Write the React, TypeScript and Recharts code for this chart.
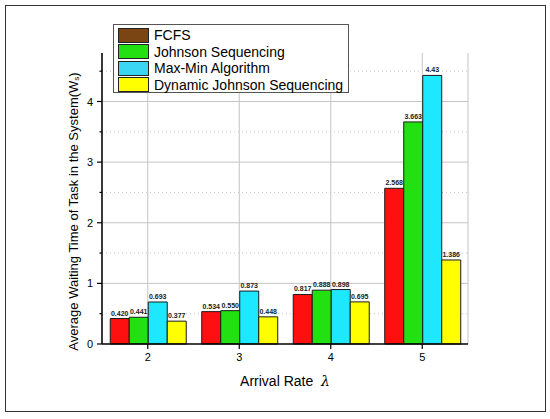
import React from "react"
import {
  BarChart,
  Bar,
  XAxis,
  YAxis,
  CartesianGrid,
  LabelList,
  Label,
} from "recharts"

const categories = ["2", "3", "4", "5"]
const categoryNums = [2, 3, 4, 5]
const fcfs = ["0.420", "0.534", "0.817", "2.568"]
const johnson = ["0.441", "0.550", "0.888", "3.663"]
const maxMin = ["0.693", "0.873", "0.898", "4.43"]
const dynamicJohnson = ["0.377", "0.448", "0.695", "1.386"]

const seriesNames = [
  "FCFS",
  "Johnson Sequencing",
  "Max-Min Algorithm",
  "Dynamic Johnson Sequencing",
]
const seriesValues = [fcfs, johnson, maxMin, dynamicJohnson]
const barColors = ["#ff1010", "#22e011", "#1ee8ff", "#ffff00"]
const legendColors = ["#7a4512", "#22e011", "#3cd6f5", "#ffff00"]

const yTicks = [0, 0.5, 1, 1.5, 2, 2.5, 3, 3.5, 4, 4.5]
const yMajor = [1, 2, 3, 4]
const yMinor = [0.5, 1.5, 2.5, 3.5, 4.5]
const xMinor = [2.5, 3.5, 4.5]

const data = categories.map((rate, i) => {
  const row: Record<string, string | number> = { rate, rateNum: categoryNums[i] }
  seriesValues.forEach((vals, s) => {
    row["s" + s] = Number(vals[i])
    row["l" + s] = vals[i]
  })
  return row
})

const font = "'Liberation Sans', Arial, sans-serif"

function YTick(props: any) {
  const { x, y, payload } = props
  const major = Number.isInteger(payload.value)
  return (
    <g>
      <line
        x1={x + 4 + (major ? 0 : 2.5)}
        x2={x + 9}
        y1={y}
        y2={y}
        stroke="#000"
        strokeWidth={1.2}
      />
      {major && (
        <text x={x} y={y} dy={4} textAnchor="end" fontSize={11} fill="#000" fontFamily={font}>
          {payload.value}
        </text>
      )}
    </g>
  )
}

function YLabel(props: any) {
  const vb = props.viewBox
  const cx = vb.x + 73
  const cy = vb.y + vb.height / 2 + 13
  return (
    <text
      x={cx}
      y={cy}
      transform={`rotate(-90 ${cx} ${cy})`}
      textAnchor="middle"
      dominantBaseline="central"
      fontSize={13}
      fontFamily={font}
      fill="#000"
    >
      Average Waiting Time of Task in the System(W
      <tspan fontSize={8} dy={3}>s</tspan>
      <tspan dy={-3}>)</tspan>
    </text>
  )
}

function XLabel(props: any) {
  const vb = props.viewBox
  const cx = vb.x + vb.width / 2
  return (
    <text
      x={cx}
      y={vb.y + 42}
      textAnchor="middle"
      fontSize={14}
      fontFamily={font}
      fill="#000"
    >
      Arrival Rate{"\u00a0\u00a0"}
      <tspan fontStyle="italic" fontFamily="'DejaVu Serif', serif">λ</tspan>
    </text>
  )
}

function App() {
  return (
    <div
      style={{
        position: "absolute",
        left: 0,
        top: 0,
        width: 550,
        height: 419,
        background: "#fff",
        fontFamily: font,
      }}
    >
      <div
        style={{
          position: "absolute",
          left: 5,
          top: 5,
          width: 539,
          height: 405,
          border: "1px solid #333",
        }}
      />
      <BarChart
        width={550}
        height={419}
        data={data}
        margin={{ top: 53, right: 82, left: 0, bottom: 45 }}
        barCategoryGap="9%"
        barGap={0}
      >
        <CartesianGrid
          horizontalValues={yMajor}
          stroke="#c4c4c4"
          strokeWidth={1}
        />
        <CartesianGrid
          xAxisId="num"
          horizontalValues={yMinor}
          verticalValues={xMinor}
          stroke="#c8c8c8"
          strokeDasharray="1 3"
        />
        <XAxis
          xAxisId="num"
          dataKey="rateNum"
          type="number"
          domain={[1.5, 5.5]}
          ticks={xMinor}
          height={0}
          axisLine={false}
          tick={false}
          tickSize={3}
          tickLine={{ stroke: "#000" }}
        />
        <XAxis
          dataKey="rate"
          height={30}
          tickSize={5}
          tickMargin={4}
          axisLine={{ stroke: "#000", strokeWidth: 1.5 }}
          tickLine={{ stroke: "#000", strokeWidth: 1.2 }}
          tick={{ fill: "#000", fontSize: 11, fontFamily: font }}
        >
          <Label content={<XLabel />} />
        </XAxis>
        <YAxis
          width={102}
          domain={[0, 4.8]}
          ticks={yTicks}
          interval={0}
          tickSize={5}
          tickMargin={4}
          tickLine={false}
          axisLine={{ stroke: "#000", strokeWidth: 1.5 }}
          tick={<YTick />}
        >
          <Label content={<YLabel />} />
        </YAxis>
        {seriesNames.map((name, s) => (
          <Bar
            key={name}
            name={name}
            dataKey={"s" + s}
            fill={barColors[s]}
            stroke="#1a1a1a"
            strokeWidth={1}
            isAnimationActive={false}
          >
            <LabelList
              dataKey={"l" + s}
              position="top"
              offset={3}
              fontSize={7}
              fontWeight="bold"
              fill="#222"
              fontFamily={font}
            />
          </Bar>
        ))}
      </BarChart>
      <div
        style={{
          position: "absolute",
          left: 113,
          top: 24,
          width: 236,
          height: 69,
          border: "1px solid #555",
          background: "#fff",
          padding: "2px 0 0 4px",
          boxSizing: "border-box",
        }}
      >
        {seriesNames.map((name, s) => (
          <div
            key={name}
            style={{ display: "flex", alignItems: "center", height: 16.5 }}
          >
            <span
              style={{
                display: "inline-block",
                width: 29,
                height: 13,
                background: legendColors[s],
                border: "1px solid #222",
                marginRight: 5,
              }}
            />
            <span style={{ fontSize: 14, color: "#000" }}>{name}</span>
          </div>
        ))}
      </div>
    </div>
  )
}

export default App
